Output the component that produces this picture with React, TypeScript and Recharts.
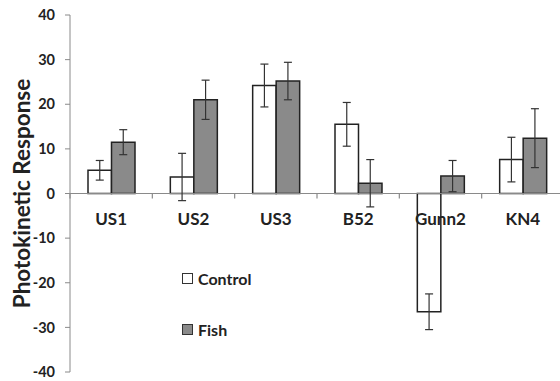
import React from "react";
import { BarChart, Bar, XAxis, YAxis, ErrorBar, ReferenceLine, Legend } from "recharts";

const strains = ["US1", "US2", "US3", "B52", "Gunn2", "KN4"];
const control = [5.2, 3.7, 24.2, 15.5, -26.5, 7.6];
const controlErr = [2.2, 5.3, 4.8, 4.9, 4, 5];
const fish = [11.5, 21, 25.2, 2.3, 3.9, 12.4];
const fishErr = [2.8, 4.4, 4.2, 5.3, 3.5, 6.6];
const yTicks = [-40, -30, -20, -10, 0, 10, 20, 30, 40];

const data = strains.map((name, i) => ({
  name,
  control: control[i],
  controlErr: controlErr[i],
  fish: fish[i],
  fishErr: fishErr[i],
}));

const W = 570;
const H = 381;
const MARGIN = { top: 15, right: 6, left: 10, bottom: 0 };
const X_AXIS_H = 9;
const Y_AXIS_W = 60;
const PLOT_H = H - MARGIN.top - MARGIN.bottom - X_AXIS_H;
const PLOT_W = W - MARGIN.left - MARGIN.right - Y_AXIS_W;
const BAND = PLOT_W / strains.length;
const ZERO_Y = MARGIN.top + PLOT_H / 2;

const FONT = "Lato, 'Open Sans', sans-serif";
const AXIS = "#8a8a8a";
const TEXT = "#222";

const CategoryTick = (props: any) => {
  const { x, payload } = props;
  const bx = x - BAND / 2;
  return (
    <g>
      <line x1={bx} x2={bx} y1={ZERO_Y} y2={ZERO_Y + 5} stroke={AXIS} strokeWidth={1.2} />
      <text
        x={x}
        y={ZERO_Y + 31.5}
        textAnchor="middle"
        fontFamily={FONT}
        fontWeight={700}
        fontSize={17}
        fill={TEXT}
      >
        {payload.value}
      </text>
    </g>
  );
};

const YTitle = (props: any) => {
  const vb = props.viewBox;
  const cx = vb.x + 11;
  const cy = vb.y + vb.height / 2;
  return (
    <text
      x={cx}
      y={cy}
      transform={`rotate(-90 ${cx} ${cy})`}
      textAnchor="middle"
      dominantBaseline="central"
      fontFamily={FONT}
      fontWeight={700}
      fontSize={22.5}
      fill={TEXT}
    >
      Photokinetic Response
    </text>
  );
};

const LegendBox = (props: any) => {
  const items = props.payload || [];
  return (
    <div style={{ fontFamily: FONT, fontWeight: 700, fontSize: 16, color: TEXT }}>
      {items.map((it: any, i: number) => (
        <div
          key={it.value}
          style={{ display: "flex", alignItems: "center", height: 20, marginTop: i === 0 ? 0 : 31 }}
        >
          <span
            style={{
              display: "inline-block",
              width: 9,
              height: 9,
              background: it.payload?.fill ?? it.color,
              border: "1px solid #333",
              marginRight: 5,
            }}
          />
          <span>{it.value}</span>
        </div>
      ))}
    </div>
  );
};

export default function App() {
  return (
    <div style={{ position: "absolute", left: 0, top: 0, width: 560, height: 381, overflow: "hidden", background: "#fff" }}>
      <BarChart width={W} height={H} data={data} margin={MARGIN} barGap={0} barSize={23.5}>
        <XAxis
          dataKey="name"
          height={X_AXIS_H}
          axisLine={false}
          tickLine={false}
          tick={<CategoryTick />}
          interval={0}
        />
        <YAxis
          width={Y_AXIS_W}
          domain={[-40, 40]}
          ticks={yTicks}
          interval={0}
          stroke={AXIS}
          tickSize={5}
          tickMargin={10}
          tick={{ fill: TEXT, fontFamily: FONT, fontWeight: 700, fontSize: 14.5 }}
          label={<YTitle />}
        />
        <ReferenceLine y={0} stroke={AXIS} strokeWidth={1.2} />
        <Bar dataKey="control" name="Control" fill="#ffffff" stroke="#222" strokeWidth={1.5} isAnimationActive={false}>
          <ErrorBar dataKey="controlErr" width={4} stroke="#333" strokeWidth={1.2} />
        </Bar>
        <Bar dataKey="fish" name="Fish" fill="#8a8a8a" stroke="#222" strokeWidth={1.5} isAnimationActive={false}>
          <ErrorBar dataKey="fishErr" width={4} stroke="#333" strokeWidth={1.2} />
        </Bar>
        <Legend
          layout="vertical"
          align="center"
          verticalAlign="middle"
          content={<LegendBox />}
          wrapperStyle={{ left: 182, top: 268, width: 120 }}
        />
      </BarChart>
    </div>
  );
}
